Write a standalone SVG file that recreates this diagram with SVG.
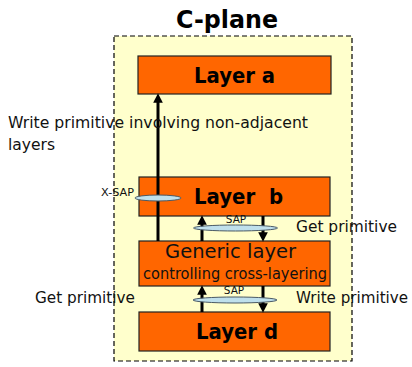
<svg xmlns="http://www.w3.org/2000/svg" width="412" height="367" viewBox="0 0 412 367">
<style>
.layer{fill:#FF6600;stroke:#222;stroke-width:1.2}
.bt{font-family:"DejaVu Sans",Verdana,sans-serif;font-weight:bold;fill:#000}
.t{font-family:"DejaVu Sans",Verdana,sans-serif;fill:#111}
.sap{fill:#BFE0EC;stroke:#4a5a66;stroke-width:1}
.ar{stroke:#000;stroke-width:3;fill:none}
</style>
<defs>
<marker id="ah" viewBox="0 0 10 10" refX="5" refY="5" markerWidth="3.2" markerHeight="3.2" orient="auto-start-reverse" markerUnits="strokeWidth">
<path d="M0,0 L10,5 L0,10 z" fill="#000"/>
</marker>
</defs>
<rect width="412" height="367" fill="#fff"/>
<text class="bt" x="227" y="28" font-size="24" text-anchor="middle" textLength="102" lengthAdjust="spacingAndGlyphs">C-plane</text>
<rect id="cplane" x="114" y="36" width="238" height="325" fill="#FFFFCC" stroke="#000" stroke-width="1.2" stroke-dasharray="5,3"/>
<g id="layer-a"><rect class="layer" x="138" y="56" width="193" height="38"/><text class="bt" x="234.5" y="83" font-size="20.5" text-anchor="middle" textLength="81" lengthAdjust="spacingAndGlyphs">Layer a</text></g>
<g id="layer-b"><rect class="layer" x="139" y="177" width="191" height="39"/><text class="bt" x="238.5" y="204" font-size="20.5" text-anchor="middle" textLength="89" lengthAdjust="spacingAndGlyphs" xml:space="preserve">Layer  b</text></g>
<g id="generic"><rect class="layer" x="139" y="241" width="191" height="45"/><text class="t" x="230.5" y="258" font-size="20" text-anchor="middle" textLength="131" lengthAdjust="spacingAndGlyphs">Generic layer</text><text class="t" x="235" y="279" font-size="15.5" text-anchor="middle" textLength="184" lengthAdjust="spacingAndGlyphs">controlling cross-layering</text></g>
<g id="layer-d"><rect class="layer" x="139" y="312" width="191" height="39"/><text class="bt" x="237" y="339" font-size="20.5" text-anchor="middle" textLength="82" lengthAdjust="spacingAndGlyphs">Layer d</text></g>
<g id="connectors">
<line class="ar" x1="158" y1="241" x2="158" y2="98" marker-end="url(#ah)"/>
<line class="ar" x1="202" y1="241" x2="202" y2="220" marker-end="url(#ah)"/>
<line class="ar" x1="263" y1="216" x2="263" y2="237" marker-end="url(#ah)"/>
<line class="ar" x1="202" y1="312" x2="202" y2="290" marker-end="url(#ah)"/>
<line class="ar" x1="263" y1="286" x2="263" y2="308" marker-end="url(#ah)"/>
</g>
<g id="saps">
<ellipse class="sap" cx="158" cy="198" rx="23" ry="3"/>
<text class="t" x="134" y="196" font-size="10" text-anchor="end" textLength="33" lengthAdjust="spacingAndGlyphs">X-SAP</text>
<ellipse class="sap" cx="235.5" cy="228" rx="42" ry="3"/>
<text class="t" x="236" y="223" font-size="10.5" text-anchor="middle">SAP</text>
<ellipse class="sap" cx="235" cy="300" rx="42" ry="3"/>
<text class="t" x="234" y="294" font-size="10.5" text-anchor="middle">SAP</text>
</g>
<g id="labels">
<text class="t" x="8" y="128" font-size="16.5" textLength="300" lengthAdjust="spacingAndGlyphs">Write primitive involving non-adjacent</text>
<text class="t" x="8" y="150" font-size="16.5" textLength="47" lengthAdjust="spacingAndGlyphs">layers</text>
<text class="t" x="296" y="232" font-size="16.5" textLength="101" lengthAdjust="spacingAndGlyphs">Get primitive</text>
<text class="t" x="35" y="303" font-size="16.5" textLength="100" lengthAdjust="spacingAndGlyphs">Get primitive</text>
<text class="t" x="296" y="303" font-size="16" textLength="112" lengthAdjust="spacingAndGlyphs">Write primitive</text>
</g>
</svg>
